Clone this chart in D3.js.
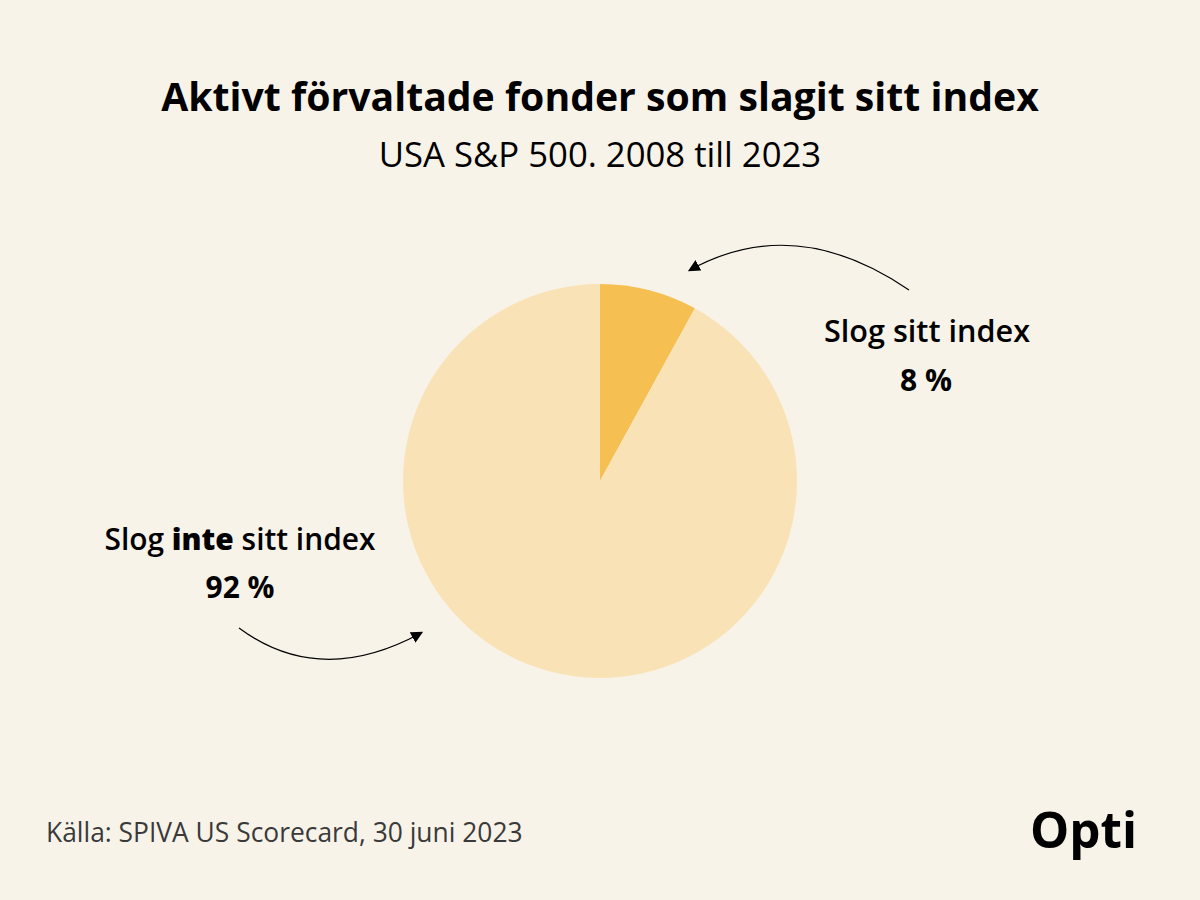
<!DOCTYPE html>
<html lang="sv">
<head>
<meta charset="UTF-8">
<title>Aktivt förvaltade fonder som slagit sitt index</title>
<script src="https://d3js.org/d3.v7.min.js"></script>
<style>
  body { margin: 0; background: #f8f3e9; }
  svg { display: block; }
  text { font-family: "Open Sans", "Noto Sans", sans-serif; fill: #000; }
</style>
</head>
<body>
<svg width="1200" height="900"></svg>
<script>
const categories = ['Slog sitt index', 'Slog inte sitt index'];
const values = [8, 92];
const colors = ['#f6bf52', '#f9e3b6'];

const svg = d3.select('svg');
svg.append('rect').attr('width', 1200).attr('height', 900).attr('fill', '#f8f3e9');

// skala fontstorleken så att texten får rätt bredd
function fit(sel, w) {
  const fs = +sel.attr('font-size');
  const len = sel.node().getComputedTextLength();
  sel.attr('font-size', (fs * w / len).toFixed(1));
  return sel;
}

// titel
fit(svg.append('text')
  .attr('x', 600).attr('y', 111)
  .attr('text-anchor', 'middle')
  .attr('font-size', 32).attr('font-weight', 700)
  .text('Aktivt förvaltade fonder som slagit sitt index'), 878);

fit(svg.append('text')
  .attr('x', 600).attr('y', 167)
  .attr('text-anchor', 'middle')
  .attr('font-size', 28)
  .text('USA S&P 500. 2008 till 2023'), 442);

// paj
const cx = 600, cy = 481, r = 197;
const pie = d3.pie().sort(null).value(d => d);
const arc = d3.arc().innerRadius(0).outerRadius(r);

svg.append('g')
  .attr('transform', `translate(${cx},${cy})`)
  .selectAll('path')
  .data(pie(values))
  .join('path')
  .attr('d', arc)
  .attr('fill', (d, i) => colors[i]);

// etiketter
fit(svg.append('text')
  .attr('x', 927).attr('y', 342)
  .attr('text-anchor', 'middle')
  .attr('font-size', 24).attr('font-weight', 600)
  .text(categories[0]), 206);

fit(svg.append('text')
  .attr('x', 926).attr('y', 391)
  .attr('text-anchor', 'middle')
  .attr('font-size', 24).attr('font-weight', 700)
  .text(values[0] + ' %'), 52);

const lab2 = svg.append('text')
  .attr('x', 240).attr('y', 550)
  .attr('text-anchor', 'middle')
  .attr('font-size', 24).attr('font-weight', 600);
lab2.append('tspan').text('Slog ');
lab2.append('tspan').attr('font-weight', 800).text('inte');
lab2.append('tspan').text(' sitt index');
fit(lab2, 271);

fit(svg.append('text')
  .attr('x', 240).attr('y', 598)
  .attr('text-anchor', 'middle')
  .attr('font-size', 24).attr('font-weight', 700)
  .text(values[1] + ' %'), 69);

// pilar
svg.append('defs').append('marker')
  .attr('id', 'head')
  .attr('viewBox', '0 0 10 10')
  .attr('refX', 8).attr('refY', 5)
  .attr('markerWidth', 12).attr('markerHeight', 12)
  .attr('markerUnits', 'userSpaceOnUse')
  .attr('orient', 'auto')
  .append('path')
  .attr('d', 'M0,0 L10,5 L0,10 Z')
  .attr('fill', '#000');

const arrows = [
  'M909,290 Q795,212 690,270',
  'M239,628 Q320,688 421,633'
];
svg.selectAll('path.arrow')
  .data(arrows)
  .join('path')
  .attr('class', 'arrow')
  .attr('d', d => d)
  .attr('fill', 'none')
  .attr('stroke', '#000')
  .attr('stroke-width', 1.2)
  .attr('marker-end', 'url(#head)');

// källa
fit(svg.append('text')
  .attr('x', 46).attr('y', 842)
  .attr('font-size', 20)
  .style('fill', '#3a3a3a')
  .text('Källa: SPIVA US Scorecard, 30 juni 2023'), 476);

// logga
fit(svg.append('text')
  .attr('x', 1030).attr('y', 848)
  .attr('font-size', 48).attr('font-weight', 700)
  .text('Opti'), 107);
</script>
</body>
</html>
